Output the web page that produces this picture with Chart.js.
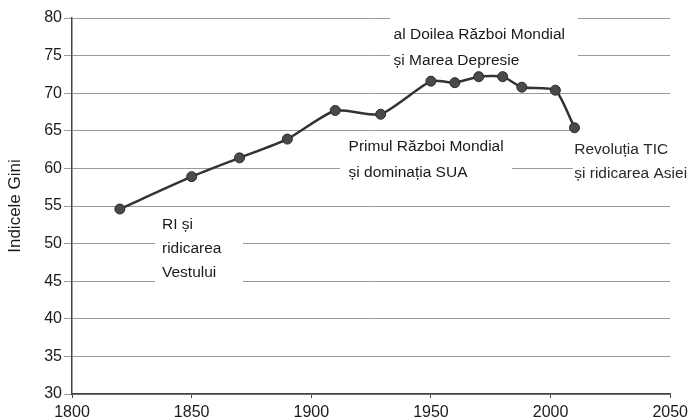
<!DOCTYPE html>
<html>
<head>
<meta charset="utf-8">
<script src="https://cdn.jsdelivr.net/npm/chart.js@4"></script>
<style>
  body { margin: 0; background: #fff; }
</style>
</head>
<body>
<canvas id="myChart" width="693" height="420"></canvas>
<script>
// ====== Indicele Gini global 1820 - 2010 =========

const years = [1820, 1850, 1870, 1890, 1910, 1929, 1950, 1960, 1970, 1980, 1988, 2002, 2010];
const gini = [54.6, 58.9, 61.4, 63.9, 67.7, 67.2, 71.6, 71.4, 72.2, 72.2, 70.8, 70.4, 65.4];
const xTicks = [1800, 1850, 1900, 1950, 2000, 2050];
const yTicks = [30, 35, 40, 45, 50, 55, 60, 65, 70, 75, 80];

// text notes (lines of text)
const notes = [
  ["RI și", "ridicarea", "Vestului"],
  ["Primul Război Mondial", "și dominația SUA"],
  ["al Doilea Război Mondial", "și Marea Depresie"],
  ["Revoluția TIC", "și ridicarea Asiei"],
];

// where each note sits (year, value of first line) + white box behind it
const notePlace = [
  { x: 1837.6, y: 52.5, gap: 24, box: [155, 214, 88, 73], color: "#1a1a1a" },
  { x: 1915.6, y: 62.85, gap: 26, box: [340, 136, 172, 48], color: "#1a1a1a" },
  { x: 1934.4, y: 77.75, gap: 26, box: [390, 8, 188, 64], color: "#1a1a1a" },
  { x: 2009.9, y: 62.45, gap: 24, box: [573, 124, 120, 64], color: "#2a2a2a" },
];

const FONT = "'Liberation Sans', Arial, sans-serif";

const notesPlugin = {
  id: "notes",
  beforeDatasetsDraw(chart) {
    const c = chart.ctx;
    c.save();
    c.fillStyle = "#fff";
    notePlace.forEach((p) => {
      c.fillRect(p.box[0], p.box[1], p.box[2], p.box[3]);
    });
    c.restore();
  },
  afterDatasetsDraw(chart) {
    const c = chart.ctx;
    const sx = chart.scales.x;
    const sy = chart.scales.y;
    c.save();
    c.font = "15.5px " + FONT;
    c.textAlign = "left";
    c.textBaseline = "middle";
    for (let i = 0; i < notes.length; i++) {
      const p = notePlace[i];
      const px = sx.getPixelForValue(p.x);
      const py = sy.getPixelForValue(p.y);
      c.fillStyle = p.color;
      for (let j = 0; j < notes[i].length; j++) {
        c.fillText(notes[i][j], px, py + j * p.gap);
      }
    }
    c.restore();
  },
};

let ctx = document.getElementById("myChart").getContext("2d");

var graphie = new Chart(ctx, {
  type: "line",
  data: {
    datasets: [
      {
        label: "Indicele Gini",
        data: years.map((y, i) => ({ x: y, y: gini[i] })),
        borderColor: "#333",
        borderWidth: 2.5,
        backgroundColor: "#4a4a4a",
        pointBackgroundColor: "#4a4a4a",
        pointBorderColor: "#2a2a2a",
        pointBorderWidth: 1,
        pointRadius: 5,
        tension: 0.2,
        fill: false,
      },
    ],
  },
  options: {
    responsive: false,
    animation: false,
    layout: { padding: { top: 18, right: 22, left: 0, bottom: 0 } },
    plugins: {
      legend: { display: false },
      tooltip: { enabled: false },
    },
    scales: {
      x: {
        type: "linear",
        min: 1800,
        max: 2050,
        afterBuildTicks: (s) => {
          s.ticks = xTicks.map((v) => ({ value: v }));
        },
        afterFit: (s) => {
          s.height = 26;
        },
        grid: {
          drawOnChartArea: false,
          drawTicks: true,
          tickLength: 4,
          color: "#444",
        },
        border: { color: "#444", width: 1.5 },
        ticks: {
          color: "#1a1a1a",
          padding: 5,
          maxRotation: 0,
          callback: (v) => String(v),
          font: { family: FONT, size: 16 },
        },
      },
      y: {
        min: 30,
        max: 80,
        afterBuildTicks: (s) => {
          s.ticks = yTicks.map((v) => ({ value: v }));
        },
        afterFit: (s) => {
          s.width = 72;
        },
        grid: {
          color: "#9a9a9a",
          lineWidth: 1,
          drawTicks: true,
          tickLength: 8,
        },
        border: { color: "#444", width: 1.5 },
        ticks: {
          color: "#1a1a1a",
          padding: 2,
          font: { family: FONT, size: 16 },
        },
        title: {
          display: true,
          text: "Indicele Gini",
          color: "#1a1a1a",
          padding: { top: 5, bottom: 0 },
          font: { family: FONT, size: 17 },
        },
      },
    },
  },
  plugins: [notesPlugin],
});
</script>
</body>
</html>
